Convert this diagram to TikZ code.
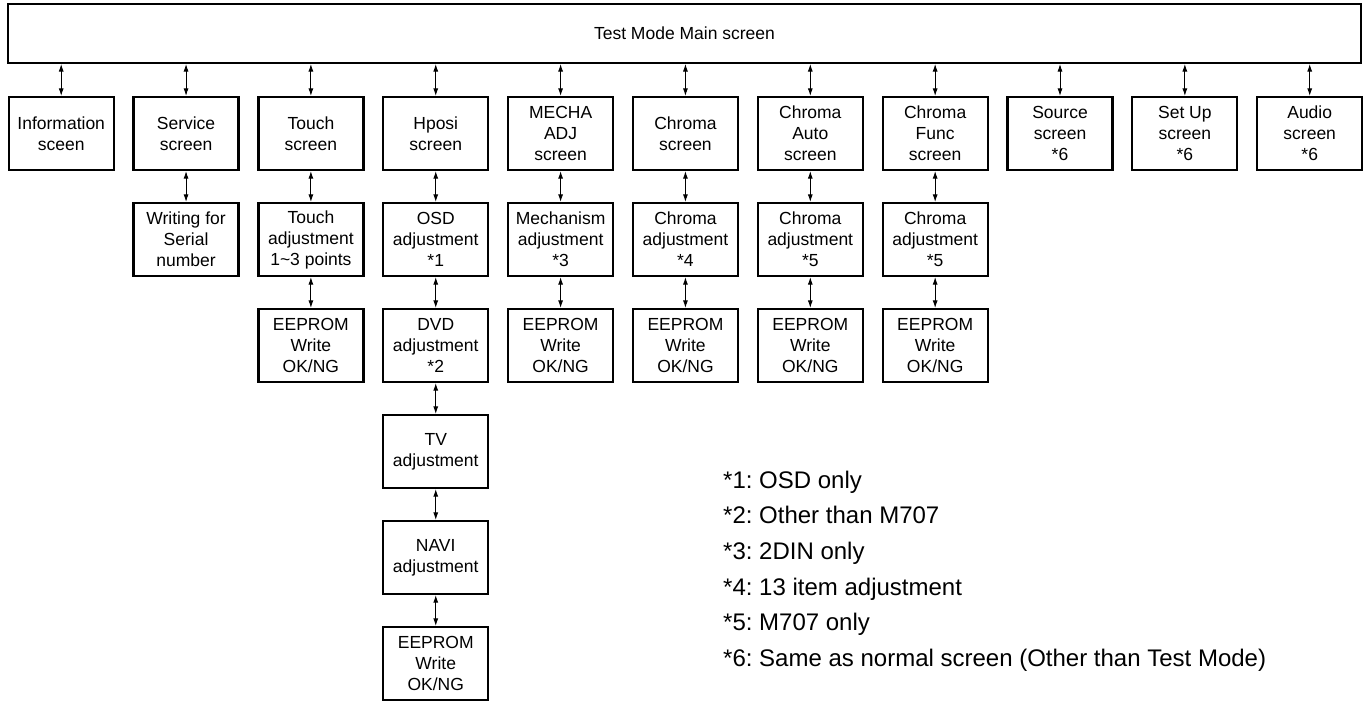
\documentclass[tikz,border=0pt]{standalone}
\usepackage{fontspec}
\setmainfont{Liberation Sans}
\frenchspacing
\usetikzlibrary{arrows.meta}
\tikzset{
  scr/.style={draw, line width=2.2pt, minimum width=105pt, minimum height=73pt,
    inner sep=1pt, align=center, font=\fontsize{17.5}{21}\selectfont},
  link/.style={{Latex[length=7.5pt,width=5pt]}-{Latex[length=7.5pt,width=5pt]}, line width=0.9pt},
  note/.style={anchor=base west, inner sep=0pt, font=\fontsize{24}{28}\selectfont}
}
\begin{document}
\begin{tikzpicture}[x=1pt,y=-1pt]
\useasboundingbox (0,0) rectangle (1370,702);
\node[scr, minimum width=1353pt, minimum height=59pt] (main) at (684.5,33.4) {Test Mode Main screen};

% first row
\node[scr] (info)   at (61.2,133.5)   {Information\\sceen};
\node[scr] (serv)   at (186.05,133.5) {Service\\screen};
\node[scr] (touch)  at (310.9,133.5)  {Touch\\screen};
\node[scr] (hposi)  at (435.75,133.5) {Hposi\\screen};
\node[scr] (mecha)  at (560.6,133.5)  {MECHA\\ADJ\\screen};
\node[scr] (chroma) at (685.45,133.5) {Chroma\\screen};
\node[scr] (cauto)  at (810.3,133.5)  {Chroma\\Auto\\screen};
\node[scr] (cfunc)  at (935.15,133.5) {Chroma\\Func\\screen};
\node[scr] (source) at (1060,133.5)   {Source\\screen\\*6};
\node[scr] (setup)  at (1184.85,133.5) {Set Up\\screen\\*6};
\node[scr] (audio)  at (1309.7,133.5) {Audio\\screen\\*6};

% second row
\node[scr] (servwr)   at (186.05,239.5) {Writing for\\Serial\\number};
\node[scr] (touchadj) at (310.9,239.5)  {Touch\\adjustment\\1\textasciitilde 3 points};
\node[scr] (osd)      at (435.75,239.5) {OSD\\adjustment\\*1};
\node[scr] (mechadj)  at (560.6,239.5)  {Mechanism\\adjustment\\*3};
\node[scr] (chradj)   at (685.45,239.5) {Chroma\\adjustment\\*4};
\node[scr] (cautoadj) at (810.3,239.5)  {Chroma\\adjustment\\*5};
\node[scr] (cfuncadj) at (935.15,239.5) {Chroma\\adjustment\\*5};

% third row
\node[scr] (touchee) at (310.9,345.5)  {EEPROM\\Write\\OK/NG};
\node[scr] (dvd)     at (435.75,345.5) {DVD\\adjustment\\*2};
\node[scr] (mechee)  at (560.6,345.5)  {EEPROM\\Write\\OK/NG};
\node[scr] (chree)   at (685.45,345.5) {EEPROM\\Write\\OK/NG};
\node[scr] (cautoee) at (810.3,345.5)  {EEPROM\\Write\\OK/NG};
\node[scr] (cfuncee) at (935.15,345.5) {EEPROM\\Write\\OK/NG};

% Hposi column
\node[scr] (tv)      at (435.75,451.5) {TV\\adjustment};
\node[scr] (navi)    at (435.75,557.5) {NAVI\\adjustment};
\node[scr] (hposiee) at (435.75,663.5) {EEPROM\\Write\\OK/NG};

\foreach \n in {info,serv,touch,hposi,mecha,chroma,cauto,cfunc,source,setup,audio}
  \draw[link] (main.south -| \n.north) -- (\n.north);

\foreach \a/\b in {serv/servwr, touch/touchadj, touchadj/touchee, hposi/osd, osd/dvd,
    dvd/tv, tv/navi, navi/hposiee, mecha/mechadj, mechadj/mechee, chroma/chradj,
    chradj/chree, cauto/cautoadj, cautoadj/cautoee, cfunc/cfuncadj, cfuncadj/cfuncee}
  \draw[link] (\a) -- (\b);

% notes
\foreach \t [count=\i] in {*1: OSD only, *2: Other than M707, *3: 2DIN only,
    *4: 13 item adjustment, *5: M707 only, *6: Same as normal screen (Other than Test Mode)}
  \node[note] (note\i) at (723,452.3+35.7*\i) {\t};
\end{tikzpicture}
\end{document}
